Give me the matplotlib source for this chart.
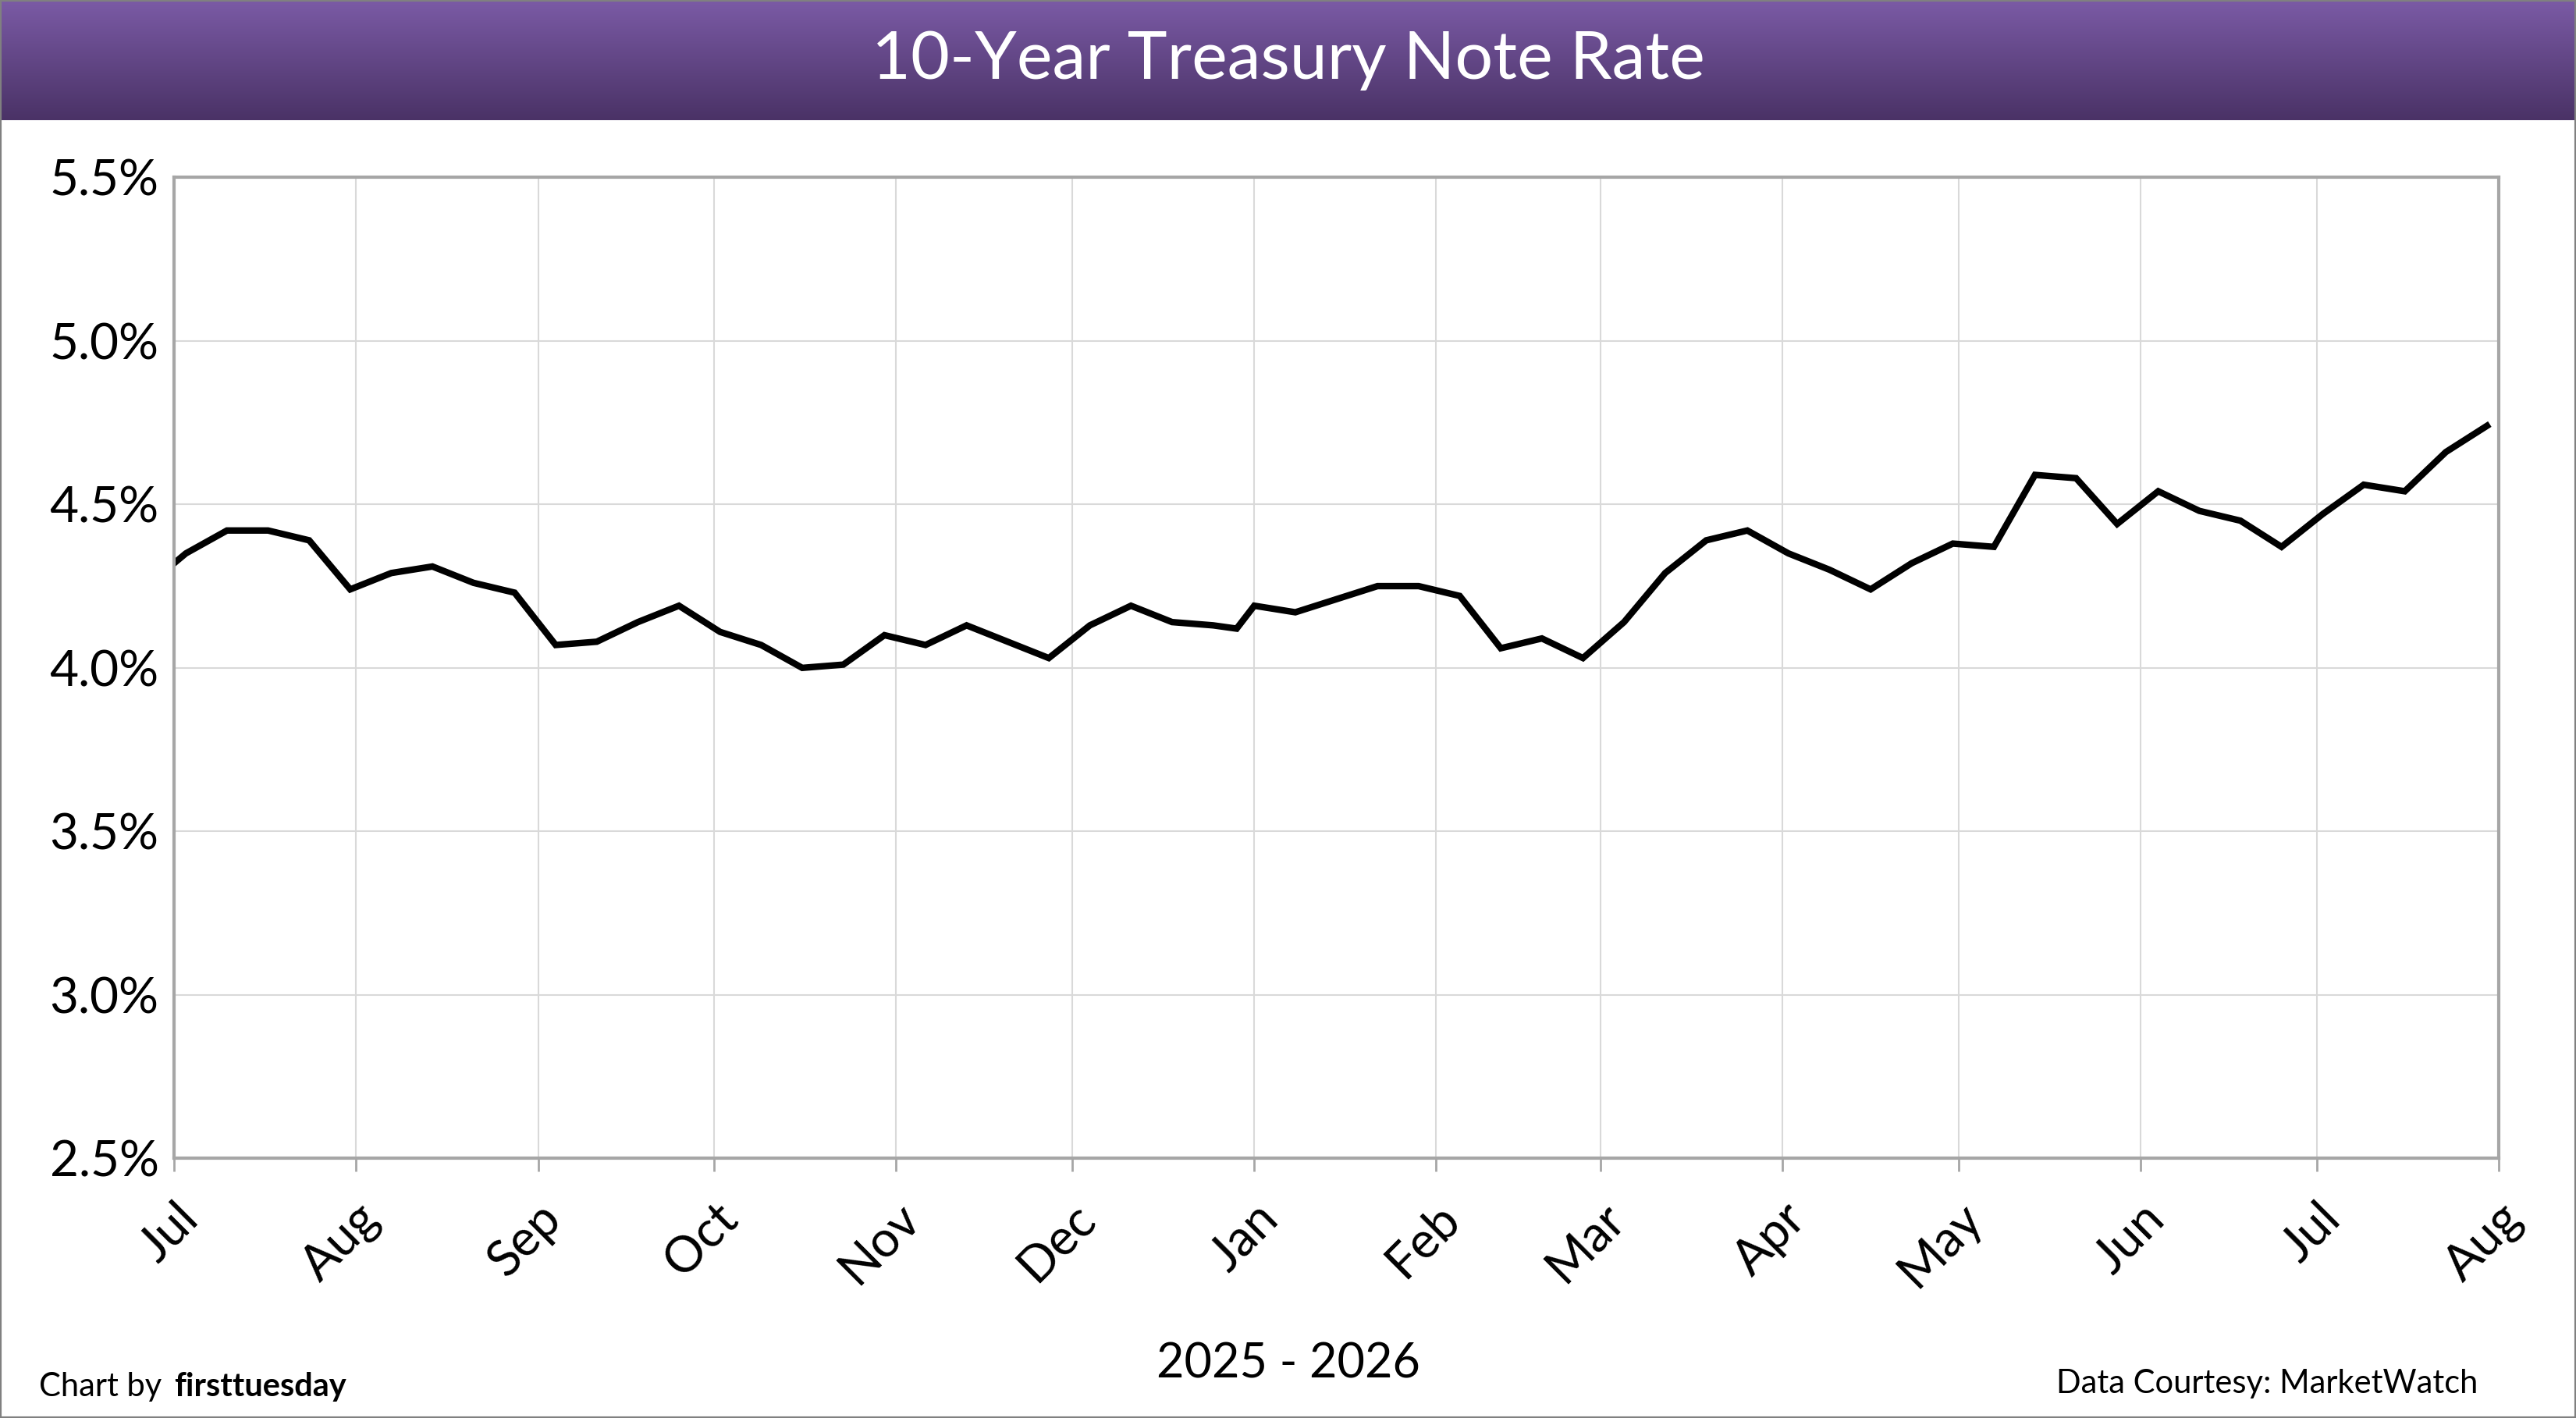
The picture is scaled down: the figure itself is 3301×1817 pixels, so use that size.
import numpy as np
import pandas as pd
import matplotlib
matplotlib.use('Agg')
import matplotlib.pyplot as plt
import matplotlib.dates as mdates
from matplotlib.ticker import FuncFormatter

# weekly 10-year treasury rates (%)
dates = ['2025-07-01', '2025-07-03', '2025-07-10', '2025-07-17', '2025-07-24', '2025-07-31',
         '2025-08-07', '2025-08-14', '2025-08-21', '2025-08-28',
         '2025-09-04', '2025-09-11', '2025-09-18', '2025-09-25',
         '2025-10-02', '2025-10-09', '2025-10-16', '2025-10-23', '2025-10-30',
         '2025-11-06', '2025-11-13', '2025-11-20', '2025-11-27',
         '2025-12-04', '2025-12-11', '2025-12-18', '2025-12-25', '2025-12-29',
         '2026-01-01', '2026-01-08', '2026-01-15', '2026-01-22', '2026-01-29',
         '2026-02-05', '2026-02-12', '2026-02-19', '2026-02-26',
         '2026-03-05', '2026-03-12', '2026-03-19', '2026-03-26',
         '2026-04-02', '2026-04-09', '2026-04-16', '2026-04-23', '2026-04-30',
         '2026-05-07', '2026-05-14', '2026-05-21', '2026-05-28',
         '2026-06-04', '2026-06-11', '2026-06-18', '2026-06-25',
         '2026-07-02', '2026-07-09', '2026-07-16', '2026-07-23', '2026-07-30']
rates = [4.32, 4.35, 4.42, 4.42, 4.39, 4.24,
         4.29, 4.31, 4.26, 4.23,
         4.07, 4.08, 4.14, 4.19,
         4.11, 4.07, 4.00, 4.01, 4.10,
         4.07, 4.13, 4.08, 4.03,
         4.13, 4.19, 4.14, 4.13, 4.12,
         4.19, 4.17, 4.21, 4.25, 4.25,
         4.22, 4.06, 4.09, 4.03,
         4.14, 4.29, 4.39, 4.42,
         4.35, 4.30, 4.24, 4.32, 4.38,
         4.37, 4.59, 4.58, 4.44,
         4.54, 4.48, 4.45, 4.37,
         4.47, 4.56, 4.54, 4.66, 4.74]
month_ticks = pd.date_range('2025-07-01', '2026-08-01', freq='MS')
y_ticks = [2.5, 3.0, 3.5, 4.0, 4.5, 5.0, 5.5]

font = 'Lato'
fig = plt.figure(figsize=(33.01, 18.17), dpi=100)

# title bar with purple gradient
bar = fig.add_axes([0, 0.915, 1, 0.085])
grad = np.linspace(0, 1, 256).reshape(-1, 1)
cmap = matplotlib.colors.LinearSegmentedColormap.from_list('p', ['#7b5ba6', '#4a3266'])
bar.imshow(grad, aspect='auto', cmap=cmap, extent=[0, 1, 0, 1])
bar.set_axis_off()
bar.text(0.5, 0.5, '10-Year Treasury Note Rate', color='white', fontsize=62,
         family=font, ha='center', va='center')

ax = fig.add_axes([0.0676, 0.183, 0.9024, 0.692])
ax.plot(pd.to_datetime(dates), rates, color='black', lw=6, solid_joinstyle='miter')
ax.set_xlim(month_ticks[0], month_ticks[-1])
ax.set_ylim(2.5, 5.5)
ax.set_yticks(y_ticks)
ax.yaxis.set_major_formatter(FuncFormatter(lambda v, p: f'{v:.1f}%'))
ax.set_xticks(month_ticks)
ax.xaxis.set_major_formatter(mdates.DateFormatter('%b'))
ax.grid(True, color='#d9d9d9', lw=1.5)
for s in ax.spines.values():
    s.set_color('#a6a6a6')
    s.set_linewidth(3)
ax.tick_params(axis='both', labelsize=46, length=12, width=2, color='#a6a6a6')
ax.tick_params(axis='y', length=0, pad=14)
ax.tick_params(axis='x', pad=22)
for lbl in ax.get_xticklabels():
    lbl.set_rotation(45)
    lbl.set_ha('right')
    lbl.set_rotation_mode('anchor')
    lbl.set_family(font)
for lbl in ax.get_yticklabels():
    lbl.set_family(font)

fig.text(0.5, 0.038, '2025 - 2026', fontsize=44, family=font, ha='center', va='center')
fig.text(0.015, 0.022, 'Chart by', fontsize=30, family=font, va='center')
fig.text(0.0675, 0.022, 'firsttuesday', fontsize=30, family=font, weight='bold', va='center')
fig.text(0.962, 0.024, 'Data Courtesy: MarketWatch', fontsize=30, family=font, ha='right', va='center')

# outer border
fig.patches.append(matplotlib.patches.Rectangle((0, 0), 1, 1, transform=fig.transFigure,
                                                fill=False, ec='#808080', lw=3))
fig.savefig('out.png', dpi=100)
